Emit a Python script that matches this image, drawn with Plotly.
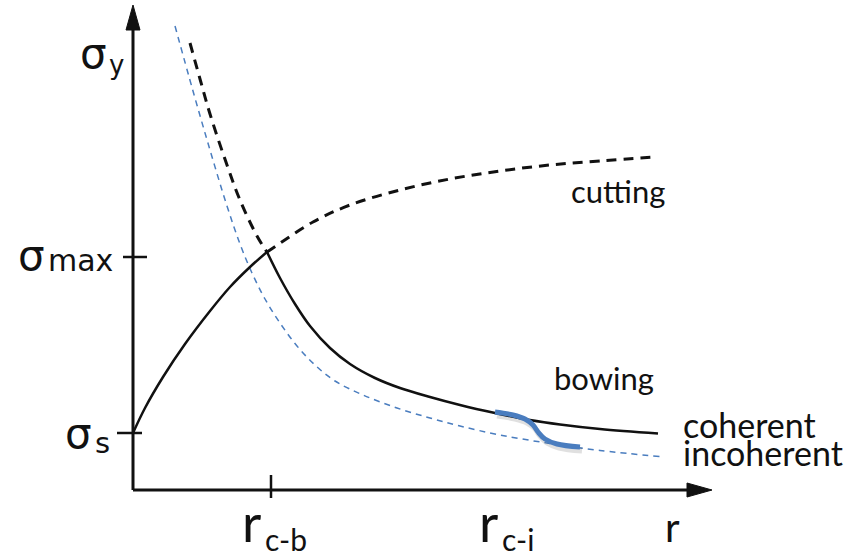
import plotly.graph_objects as go

# Axis extents (arbitrary units) and characteristic values
r_axis_end = 57.9
sigma_axis_end = 48.5
sigma_s = 5.7
sigma_max = 23.3
r_cb = 13.8
r_ci = 36.7

# Coherent particles: rising cutting branch, then falling bowing branch
coh_rise_r = [0.0, 1.2, 3.0, 5.2, 7.7, 9.7, 11.7, 13.4]
coh_rise_s = [5.7, 8.2, 11.3, 14.6, 17.9, 20.3, 22.3, 23.8]
coh_fall_r = [13.4, 14.7, 16.2, 17.7, 19.7, 21.7, 24.2, 26.7, 29.7, 32.7, 36.2, 39.7,
              42.7, 46.7, 52.5]
coh_fall_s = [23.8, 21.2, 18.6, 16.4, 14.2, 12.6, 11.2, 10.2, 9.3, 8.5, 7.7, 7.0,
              6.55, 6.1, 5.65]

# Extensions of the two mechanisms beyond the crossover (dashed)
bow_ext_r = [5.7, 6.7, 7.7, 9.4, 10.7, 12.4, 13.4]
bow_ext_s = [44.7, 41.1, 37.6, 32.5, 29.0, 25.4, 23.8]
cut_ext_r = [13.4, 14.0, 18.0, 21.7, 26.7, 31.7, 36.7, 41.7, 46.7, 52.2]
cut_ext_s = [23.8, 24.2, 26.8, 28.5, 30.0, 31.1, 31.9, 32.5, 32.9, 33.3]

# Incoherent particles
incoh_r = [4.2, 6.0, 7.7, 9.4, 10.7, 11.9, 13.2, 14.7, 16.4, 18.2, 20.2, 23.0, 26.4,
           29.7, 32.7, 36.7, 41.7, 46.7, 52.7]
incoh_s = [46.4, 39.9, 34.0, 28.4, 24.6, 21.7, 19.1, 16.7, 14.4, 12.5, 10.9, 9.5, 8.2,
           7.2, 6.4, 5.5, 4.65, 3.95, 3.35]

# Transition from coherent to incoherent around r_c-i
trans_r = [36.2, 38.0, 39.2, 40.0, 40.5, 41.2, 42.4, 44.7]
trans_s = [7.8, 7.5, 7.1, 6.5, 5.8, 5.1, 4.6, 4.3]

BLACK = "#111111"
BLUE = "#4a7dbf"
SIGMA_FONT = "DejaVu Sans"
TEXT_FONT = "Lato"

fig = go.Figure()

def line(x, y, color=BLACK, width=2.5, dash="solid", shape="spline", opacity=1.0):
    fig.add_trace(go.Scatter(
        x=x, y=y, mode="lines", opacity=opacity,
        line=dict(color=color, width=width, dash=dash, shape=shape, smoothing=1.0),
        hoverinfo="skip", showlegend=False))

# axes
line([0, 0], [0, sigma_axis_end - 1.5], width=3, shape="linear")
line([0, r_axis_end - 1.5], [0, 0], width=3, shape="linear")
# arrow heads
head_len, head_half = 2.5, 0.7
fig.add_trace(go.Scatter(
    x=[-head_half, head_half, 0, -head_half],
    y=[sigma_axis_end - head_len, sigma_axis_end - head_len, sigma_axis_end, sigma_axis_end - head_len],
    fill="toself", fillcolor=BLACK, mode="lines", line=dict(color=BLACK, width=1),
    hoverinfo="skip", showlegend=False))
fig.add_trace(go.Scatter(
    x=[r_axis_end - head_len, r_axis_end - head_len, r_axis_end, r_axis_end - head_len],
    y=[-head_half, head_half, 0, -head_half],
    fill="toself", fillcolor=BLACK, mode="lines", line=dict(color=BLACK, width=1),
    hoverinfo="skip", showlegend=False))

# ticks
fig.add_shape(type="line", x0=-1.6, x1=0.9, y0=sigma_s, y1=sigma_s, line=dict(color=BLACK, width=2.5))
fig.add_shape(type="line", x0=-1.0, x1=1.4, y0=sigma_max, y1=sigma_max, line=dict(color=BLACK, width=2.5))
fig.add_shape(type="line", x0=r_cb, x1=r_cb, y0=-0.8, y1=1.5, line=dict(color=BLACK, width=2.5))

# curves
line(incoh_r, incoh_s, color=BLUE, width=1.5, dash="6px,5px")
line(bow_ext_r, bow_ext_s, width=3, dash="10px,7px")
line(cut_ext_r, cut_ext_s, width=3, dash="10px,7px")
line(coh_rise_r, coh_rise_s, width=2.5)
line(coh_fall_r, coh_fall_s, width=2.5)
# transition band with soft shadow
line([r + 0.2 for r in trans_r], [s - 0.35 for s in trans_s], color="rgba(0,0,0,0.12)", width=6)
line(trans_r, trans_s, color=BLUE, width=5)

def label(text, x, y, size, font=TEXT_FONT, xanchor="center", yanchor="middle"):
    fig.add_annotation(x=x, y=y, text=text, showarrow=False, xanchor=xanchor, yanchor=yanchor,
                       font=dict(family=font, size=size, color=BLACK))

# stress labels
label("σ", -2.4, 43.7, 42, SIGMA_FONT, xanchor="right")
label("y", -2.6, 42.5, 26, SIGMA_FONT, xanchor="left")
label("σ", -8.6, sigma_max + 0.2, 42, SIGMA_FONT, xanchor="right")
label("max", -8.7, sigma_max - 0.3, 30, SIGMA_FONT, xanchor="left")
label("σ", -3.9, sigma_s, 42, SIGMA_FONT, xanchor="right")
label("s", -4.0, sigma_s - 1.0, 29, SIGMA_FONT, xanchor="left")

# radius labels
label("r", r_cb - 0.8, -3.1, 53, xanchor="right")
label("c-b", r_cb - 0.8, -4.9, 30, xanchor="left")
label("r", r_ci, -3.1, 53, xanchor="right")
label("c-i", r_ci, -4.9, 30, xanchor="left")
label("r", 53.9, -3.7, 40)

# mechanism labels
label("cutting", 48.5, 29.9, 31)
label("bowing", 47.1, 11.2, 31)
label("coherent", 54.8, 6.6, 34, xanchor="left")
label("incoherent", 54.8, 3.8, 34, xanchor="left")

fig.update_layout(
    width=861, height=556, margin=dict(l=0, r=0, t=0, b=0),
    paper_bgcolor="white", plot_bgcolor="white",
    xaxis=dict(range=[-13.3, 72.8], visible=False, fixedrange=True),
    yaxis=dict(range=[-6.6, 49.0], visible=False, fixedrange=True),
)

fig.write_html("out.html")
